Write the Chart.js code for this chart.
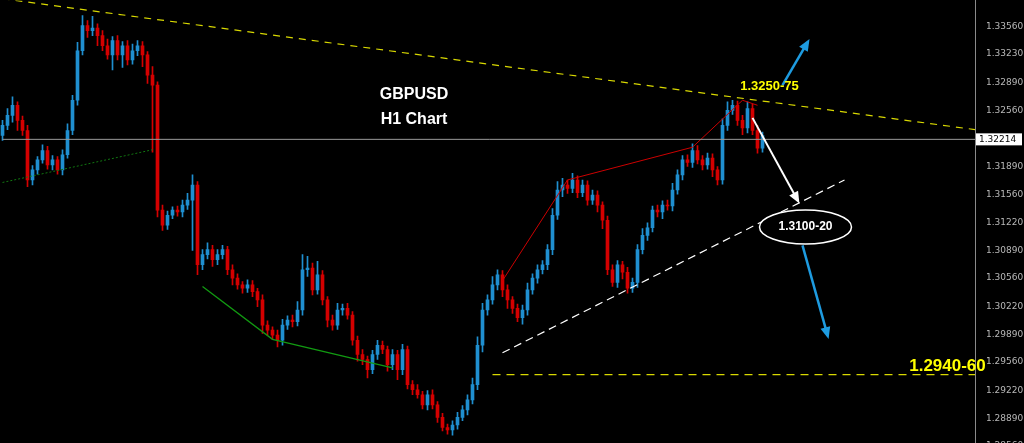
<!DOCTYPE html>
<html>
<head>
<meta charset="utf-8">
<script src="https://cdn.jsdelivr.net/npm/chart.js@4/dist/chart.umd.min.js"></script>
<style>
  html, body { margin: 0; padding: 0; background: #000; overflow: hidden; height: 443px; }
  #wrap { width: 1024px; height: 459px; margin-top: -8px; }
</style>
</head>
<body>
<div id="wrap"><canvas id="chart"></canvas></div>
<script>
// closing prices, one per hour bar
const closes = [
  1.3238,1.3250,1.3262,1.3244,1.3232,1.3173,1.3185,1.3197,1.3208,1.3191,
  1.3197,1.3185,1.3203,1.3232,1.3268,1.3327,1.3357,1.3351,1.3354,1.3345,
  1.3333,1.3322,1.3339,1.3322,1.3333,1.3316,1.3327,1.3333,1.3322,1.3298,
  1.3286,1.3137,1.3119,1.3131,1.3137,1.3135,1.3143,1.3149,1.3167,1.3072,
  1.3084,1.3090,1.3078,1.3084,1.3090,1.3066,1.3056,1.3048,1.3044,1.3048,
  1.3040,1.3030,1.3000,1.2994,1.2988,1.2982,1.3000,1.3006,1.3004,1.3018,
  1.3066,1.3068,1.3042,1.3060,1.3030,1.3006,1.3000,1.3018,1.3020,1.3012,
  1.2982,1.2965,1.2959,1.2947,1.2965,1.2976,1.2971,1.2953,1.2965,1.2947,
  1.2971,1.2929,1.2923,1.2917,1.2905,1.2917,1.2905,1.2890,1.2878,1.2875,
  1.2881,1.2890,1.2899,1.2911,1.2929,1.2976,1.3018,1.3030,1.3048,1.3060,
  1.3042,1.3030,1.3020,1.3009,1.3018,1.3042,1.3056,1.3066,1.3072,1.3090,
  1.3131,1.3161,1.3167,1.3163,1.3173,1.3158,1.3167,1.3149,1.3155,1.3143,
  1.3125,1.3066,1.3051,1.3072,1.3063,1.3044,1.3051,1.3090,1.3107,1.3116,
  1.3137,1.3135,1.3143,1.3142,1.3161,1.3179,1.3197,1.3194,1.3208,1.3197,
  1.3191,1.3199,1.3185,1.3173,1.3238,1.3256,1.3262,1.3244,1.3235,1.3258,
  1.3232,1.3211,1.3226
];
// wick extensions in pips above the body top / below the body bottom
const wickUp = [
  6,8,10,4,5,6,5,4,7,5,5,4,6,8,6,10,12,6,14,5,
  6,8,5,6,5,6,8,6,5,4,10,4,6,5,4,5,6,8,12,4,
  6,8,5,6,5,4,6,5,4,6,5,4,6,5,4,6,7,5,6,10,
  18,14,6,16,5,4,6,8,5,6,4,5,6,4,5,6,5,4,6,5,
  6,4,5,6,4,5,6,4,5,4,5,6,5,6,8,10,8,6,10,6,
  5,6,4,5,6,8,5,6,5,6,8,10,8,6,8,5,6,5,6,5,
  4,5,6,5,4,6,5,6,8,6,5,6,5,6,8,6,5,6,8,6,
  5,6,5,4,8,10,6,5,6,8,5,6,4
];
const wickDn = [
  6,5,8,12,6,8,6,5,4,5,6,5,6,4,5,6,5,8,6,12,
  6,5,18,6,15,6,5,6,14,10,80,8,6,5,4,5,6,5,60,12,
  6,5,8,6,5,6,8,5,6,5,6,8,10,6,5,8,6,5,6,5,
  6,8,6,5,6,8,6,5,6,5,6,8,6,10,5,6,5,8,6,12,
  6,5,6,4,5,6,5,6,4,5,6,5,4,6,5,6,8,6,5,6,
  8,10,6,5,8,6,5,6,5,6,6,5,8,6,5,6,5,6,5,8,
  10,6,5,6,8,6,5,6,5,6,5,6,8,5,6,5,6,5,6,5,
  6,5,8,6,5,6,5,6,8,6,5,6,5
];
const axisTicks = [1.28560,1.28890,1.29220,1.29560,1.29890,1.30220,1.30560,1.30890,
  1.31220,1.31560,1.31890,1.32560,1.32890,1.33230,1.33560];
const currentPrice = 1.32214;
const resistance = [{x:0, y:1.3389}, {x:197, y:1.3231}];
const supportLine = [{x:100, y:1.2967}, {x:168.4, y:1.3173}];
const targetLine = [{x:98, y:1.2941}, {x:197, y:1.2941}];
const redSwing = [{x:100, y:1.3053}, {x:113, y:1.3173}, {x:138, y:1.3212}, {x:148, y:1.3268}, {x:151, y:1.3262}];
const greenSwing = [{x:40, y:1.3046}, {x:54, y:1.2983}, {x:78, y:1.2949}];
const greenDotted = [{x:0, y:1.3170}, {x:30, y:1.3209}];
const arrowUp = [{x:156, y:1.3286}, {x:161, y:1.3337}];
const arrowMid = [{x:150, y:1.3247}, {x:159, y:1.3149}];
const arrowDown = [{x:160, y:1.3095}, {x:165, y:1.2988}];

const UP = '#1f8fd0', DN = '#d40000';
const bodies = [], wicks = [], colors = [];
closes.forEach((c, i) => {
  const o = i === 0 ? 1.3226 : closes[i - 1];
  const top = Math.max(o, c), bot = Math.min(o, c);
  bodies.push({x: i, y: [o, c === o ? c + 0.00005 : c]});
  wicks.push({x: i, y: [bot - wickDn[i] / 10000, top + wickUp[i] / 10000]});
  colors.push(c >= o ? UP : DN);
});

function line(data, color, width, dash) {
  return {type: 'line', data, borderColor: color, borderWidth: width, borderDash: dash || [],
    pointRadius: 0, fill: false, tension: 0, arrow: false};
}
const arrows = [
  Object.assign(line(arrowUp, '#1e9be0', 2.5), {arrow: true}),
  Object.assign(line(arrowMid, '#ffffff', 2), {arrow: true}),
  Object.assign(line(arrowDown, '#1e9be0', 2.5), {arrow: true})
];

const overlay = {
  id: 'overlay',
  afterDatasetsDraw(chart) {
    const {ctx, scales: {x, y}} = chart;
    ctx.save();
    // arrow heads
    chart.data.datasets.forEach(ds => {
      if (!ds.arrow) return;
      const a = ds.data[0], b = ds.data[1];
      const x1 = x.getPixelForValue(a.x), y1 = y.getPixelForValue(a.y);
      const x2 = x.getPixelForValue(b.x), y2 = y.getPixelForValue(b.y);
      const ang = Math.atan2(y2 - y1, x2 - x1);
      ctx.fillStyle = ds.borderColor;
      ctx.beginPath();
      ctx.moveTo(x2 + 4 * Math.cos(ang), y2 + 4 * Math.sin(ang));
      ctx.lineTo(x2 - 8 * Math.cos(ang) + 5 * Math.sin(ang), y2 - 8 * Math.sin(ang) - 5 * Math.cos(ang));
      ctx.lineTo(x2 - 8 * Math.cos(ang) - 5 * Math.sin(ang), y2 - 8 * Math.sin(ang) + 5 * Math.cos(ang));
      ctx.fill();
    });
    // title
    ctx.fillStyle = '#fff';
    ctx.font = 'bold 16px "Liberation Sans", Arial';
    ctx.textAlign = 'center';
    ctx.textBaseline = 'middle';
    ctx.fillText('GBPUSD', 414, 103);
    ctx.fillText('H1 Chart', 414, 128);
    // levels
    ctx.fillStyle = '#ffff00';
    ctx.font = 'bold 13px "Liberation Sans", Arial';
    ctx.fillText('1.3250-75', x.getPixelForValue(153.4), y.getPixelForValue(1.3285));
    ctx.font = 'bold 17px "Liberation Sans", Arial';
    ctx.fillText('1.2940-60', x.getPixelForValue(189), y.getPixelForValue(1.2951));
    // ellipse label
    const ex = x.getPixelForValue(160.6), ey = y.getPixelForValue(1.3117);
    ctx.beginPath();
    ctx.ellipse(ex, ey, 46, 17, 0, 0, Math.PI * 2);
    ctx.fillStyle = '#000';
    ctx.fill();
    ctx.strokeStyle = '#fff';
    ctx.lineWidth = 1.5;
    ctx.stroke();
    ctx.fillStyle = '#fff';
    ctx.font = 'bold 12px "Liberation Sans", Arial';
    ctx.fillText('1.3100-20', ex, ey);
    // current price box on axis
    const py = y.getPixelForValue(currentPrice);
    ctx.fillStyle = '#fff';
    ctx.fillRect(y.left + 1, py - 6, 46, 12);
    ctx.fillStyle = '#000';
    ctx.font = '9px "DejaVu Sans"';
    ctx.textAlign = 'left';
    ctx.fillText(currentPrice.toFixed(5), y.left + 4, py);
    ctx.restore();
  }
};

new Chart(document.getElementById('chart'), {
  type: 'bar',
  data: {
    datasets: [
      {data: wicks, backgroundColor: colors, barThickness: 1, grouped: false, order: 3},
      {data: bodies, backgroundColor: colors, barThickness: 3, grouped: false, order: 2},
      Object.assign(line(resistance, '#d8d800', 1.2, [7, 6]), {order: 1}),
      Object.assign(line([{x:0, y:currentPrice}, {x:197, y:currentPrice}], '#9a9a9a', 1), {order: 1}),
      Object.assign(line(supportLine, '#ffffff', 1.2, [8, 5]), {order: 1}),
      Object.assign(line(targetLine, '#d8d800', 1.2, [8, 6]), {order: 1}),
      Object.assign(line(redSwing, '#cc0000', 1), {order: 1}),
      Object.assign(line(greenSwing, '#119911', 1.3), {order: 1}),
      Object.assign(line(greenDotted, '#117711', 1, [2, 2]), {order: 1}),
      ...arrows
    ]
  },
  options: {
    responsive: true,
    maintainAspectRatio: false,
    animation: false,
    layout: {padding: 0},
    plugins: {legend: {display: false}, tooltip: {enabled: false}},
    scales: {
      x: {type: 'linear', min: -0.5, max: 194.5, display: false, offset: false},
      y: {
        position: 'right', min: 1.2860, max: 1.3387,
        grid: {display: false, drawTicks: true},
        border: {color: '#8a8a8a'},
        afterBuildTicks: s => { s.ticks = axisTicks.map(v => ({value: v})); },
        ticks: {color: '#b8b8b8', font: {size: 9, family: 'DejaVu Sans'}, padding: 3,
          callback: v => v.toFixed(5)},
        afterFit: s => { s.width = 49; }
      }
    }
  },
  plugins: [overlay]
});
</script>
</body>
</html>
